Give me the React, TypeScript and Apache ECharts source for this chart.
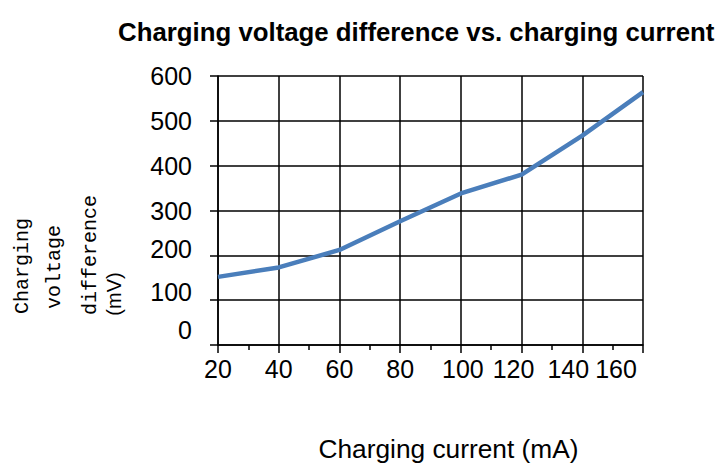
import React, { useEffect, useRef } from "react";
import * as echarts from "echarts";

// Data
const currents = [20, 40, 60, 80, 100, 120, 140, 160]; // mA
const voltageDiff = [152, 173, 212, 276, 338, 380, 467, 564]; // mV
const xTickValues = [20, 40, 60, 80, 100, 120, 140, 160];
const yTickValues = [0, 100, 200, 300, 400, 500, 600];

const titleText = "Charging voltage difference vs. charging current";
const xAxisName = "Charging current (mA)";
const yNameLines = ["Charging", "voltage", "difference"];
const yNameUnit = "(mV)";

// Label nudges (style only) to mimic the reference's label placement
const xLabelNudge: Record<number, number> = { 100: 2, 120: -8, 140: -14, 160: -27 };
const yLabelNudge: Record<number, number> = { 200: -6, 100: -8, 0: -15 };

const SANS = "'Liberation Sans', Arial, sans-serif";
const MONO = "'Liberation Mono', 'Courier New', monospace";

export default function App() {
  const ref = useRef<HTMLDivElement>(null);

  useEffect(() => {
    if (!ref.current) return;
    const chart = echarts.init(ref.current, undefined, { renderer: "svg" });

    const xRich: Record<string, any> = {};
    xTickValues.forEach((v) => {
      const s = xLabelNudge[v] || 0;
      xRich["t" + v] = {
        fontSize: 25,
        fontFamily: SANS,
        color: "#000",
        padding: s < 0 ? [0, -2 * s, 0, 0] : [0, 0, 0, 2 * s],
      };
    });
    const yRich: Record<string, any> = {};
    yTickValues.forEach((v) => {
      const s = yLabelNudge[v] || 0;
      yRich["t" + v] = {
        fontSize: 25,
        fontFamily: SANS,
        color: "#000",
        padding: s < 0 ? [0, 0, -2 * s, 0] : [2 * s, 0, 0, 0],
      };
    });

    const yNameX = [22, 54, 90];
    const yNameY = [266, 267, 255];

    chart.setOption({
      animation: false,
      backgroundColor: "#fff",
      title: {
        text: titleText,
        left: 113,
        top: 14,
        textStyle: { fontSize: 25.8, fontWeight: "bold", fontFamily: SANS, color: "#000" },
      },
      grid: { left: 218, right: 75, top: 76, bottom: 115 },
      xAxis: {
        type: "value",
        min: 20,
        max: 160,
        interval: 20,
        name: xAxisName,
        nameLocation: "middle",
        nameGap: 91,
        nameTextStyle: { fontSize: 26.3, fontFamily: SANS, color: "#000", padding: [0, 0, 0, 36] },
        axisLine: { show: true, lineStyle: { color: "#000", width: 1.5 } },
        axisTick: { show: true, length: 8, lineStyle: { color: "#000", width: 1.5 } },
        minorTick: { show: true, splitNumber: 2, length: 5, lineStyle: { color: "#000", width: 1.5 } },
        splitLine: { show: true, lineStyle: { color: "#000", width: 1.5 } },
        axisLabel: {
          margin: 11,
          formatter: (v: number) => `{t${v}|${v}}`,
          rich: xRich,
        },
      },
      yAxis: {
        type: "value",
        min: 0,
        max: 600,
        interval: 100,
        axisLine: { show: true, lineStyle: { color: "#000", width: 1.5 } },
        axisTick: { show: true, length: 8, lineStyle: { color: "#000", width: 1.5 } },
        splitLine: { show: true, lineStyle: { color: "#000", width: 1.5 } },
        axisLabel: {
          margin: 26,
          formatter: (v: number) => `{t${v}|${v}}`,
          rich: yRich,
        },
      },
      graphic: [
        ...yNameLines.map((t, i) => ({
          type: "text",
          x: yNameX[i],
          y: yNameY[i],
          rotation: Math.PI / 2,
          style: {
            text: t,
            font: `20px ${MONO}`,
            fill: "#000",
            align: "center",
            verticalAlign: "middle",
          },
        })),
        {
          type: "text",
          x: 114,
          y: 294,
          rotation: Math.PI / 2,
          style: {
            text: yNameUnit,
            font: `20px ${SANS}`,
            fill: "#000",
            align: "center",
            verticalAlign: "middle",
          },
        },
      ],
      series: [
        {
          type: "line",
          data: currents.map((c, i) => [c, voltageDiff[i]]),
          symbol: "none",
          smooth: false,
          lineStyle: { color: "#4a7ebb", width: 4.5 },
          z: 5,
        },
      ],
    });

    return () => chart.dispose();
  }, []);

  return (
    <div
      ref={ref}
      style={{ position: "fixed", left: 0, top: 0, width: 718, height: 467, background: "#fff" }}
    />
  );
}
